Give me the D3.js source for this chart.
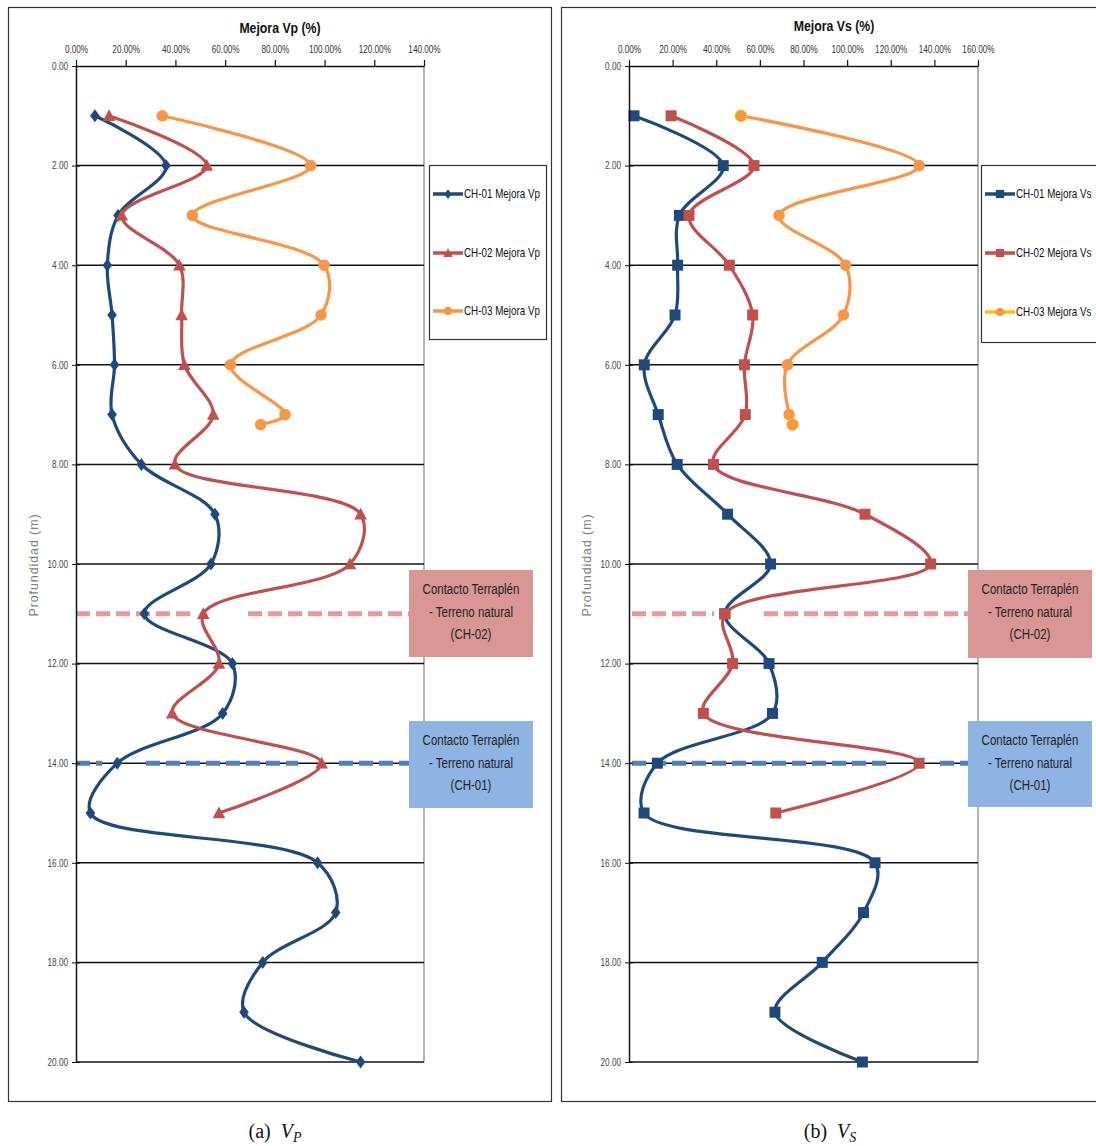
<!DOCTYPE html>
<html>
<head>
<meta charset="utf-8">
<script src="https://cdn.jsdelivr.net/npm/d3@7"></script>
<style>
  body { margin: 0; background: #fff; }
</style>
</head>
<body>
<div id="chart"></div>
<script>
// Depths (m) for each borehole
const depth01 = [1, 2, 3, 4, 5, 6, 7, 8, 9, 10, 11, 12, 13, 14, 15, 16, 17, 18, 19, 20];
const depth02 = [1, 2, 3, 4, 5, 6, 7, 8, 9, 10, 11, 12, 13, 14, 15];
const depth03 = [1, 2, 3, 4, 5, 6, 7, 7.2];

// Mejora Vp (%)
const vp01 = [7.6, 36.2, 16.9, 12.6, 14.5, 15.5, 14.5, 26.3, 55.9, 54.3, 27.5, 62.9, 59.0, 16.6, 5.8, 97.2, 104.5, 75.1, 67.6, 114.5];
const vp02 = [13.3, 52.6, 18.4, 41.6, 42.5, 43.6, 55.2, 39.8, 114.5, 110.2, 51.2, 57.5, 38.7, 98.8, 57.5];
const vp03 = [34.7, 94.4, 46.8, 99.8, 98.6, 62.2, 84.1, 74.3];

// Mejora Vs (%)
const vs01 = [2.3, 43.2, 23.1, 22.3, 21.1, 7.0, 13.4, 22.1, 45.2, 64.9, 43.9, 64.2, 65.8, 13.0, 6.9, 112.8, 107.5, 88.6, 66.9, 107.0];
const vs02 = [19.3, 57.3, 27.5, 46.0, 56.7, 52.9, 53.3, 38.7, 108.2, 138.3, 44.0, 47.5, 34.1, 133.0, 67.3];
const vs03 = [51.3, 133.0, 68.8, 99.3, 98.3, 72.6, 73.4, 75.0];

// Ticks
const xTicksVp = [0, 20, 40, 60, 80, 100, 120, 140];
const xTicksVs = [0, 20, 40, 60, 80, 100, 120, 140, 160];
const yTicks = [0, 2, 4, 6, 8, 10, 12, 14, 16, 18, 20];

// Contact depths (m)
const contactCH02 = 11;
const contactCH01 = 14;

const width = 1096, height = 1146;
const SANS = "'Liberation Sans', Arial, sans-serif";
const SQUEEZE = 0.82;   // fake a narrow font
const BLUE = "#1F497D", RED = "#C0504D", ORANGE = "#F79646", GOLD = "#FFC000";

const svg = d3.select("#chart")
    .append("svg")
    .attr("width", width)
    .attr("height", height);

// Shared depth scale
const y = d3.scaleLinear()
    .domain([0, 20])
    .range([66, 1062]);

// Narrow text helper
function narrow(g, x, yy, str, size, anchor, weight) {
    return g.append("text")
        .attr("transform", `translate(${x},${yy}) scale(${SQUEEZE},1)`)
        .attr("text-anchor", anchor || "start")
        .attr("font-family", SANS)
        .attr("font-size", size)
        .attr("font-weight", weight || 400)
        .attr("fill", "#111")
        .text(str);
}

// Marker shapes
function markerPath(shape) {
    if (shape === "diamond") return "M0,-6.5L4.8,0L0,6.5L-4.8,0Z";
    if (shape === "triangle") return "M0,-6.5L6.3,5.2L-6.3,5.2Z";
    if (shape === "square") return "M-5.5,-5.5h11v11h-11Z";
    return d3.symbol().type(d3.symbolCircle).size(105)();
}

function drawPanel(p) {
    const g = svg.append("g");

    // Panel frame
    g.append("rect")
        .attr("x", p.frame[0] + 0.5).attr("y", 7.5)
        .attr("width", p.frame[1] - p.frame[0]).attr("height", 1094)
        .attr("fill", "none").attr("stroke", "#333").attr("stroke-width", 1.2);

    const x = d3.scaleLinear()
        .domain([0, p.xMax])
        .range(p.xRange);

    // Right border of plot area
    g.append("line")
        .attr("x1", x(p.xMax)).attr("x2", x(p.xMax))
        .attr("y1", y(0)).attr("y2", y(20))
        .attr("stroke", "#999").attr("stroke-width", 1.5);

    // Gridlines
    g.append("g")
        .selectAll("line")
        .data(yTicks.filter(d => d > 0))
        .join("line")
        .attr("x1", x(0)).attr("x2", x(p.xMax))
        .attr("y1", d => y(d)).attr("y2", d => y(d))
        .attr("stroke", "#111").attr("stroke-width", 1.5);

    // Contact dashed lines
    for (let c of p.contacts) {
        for (let seg of c.segments) {
            g.append("line")
                .attr("x1", seg[0]).attr("x2", seg[1])
                .attr("y1", y(c.depth)).attr("y2", y(c.depth))
                .attr("stroke", c.color)
                .attr("stroke-width", 5)
                .attr("stroke-dasharray", "14,6");
        }
    }

    // Series lines
    const line = d3.line()
        .x(d => x(d.v))
        .y(d => y(d.depth))
        .curve(d3.curveCatmullRom.alpha(0.5));

    for (let s of p.series) {
        const pts = s.depths.map((d, i) => ({depth: d, v: s.values[i]}));
        g.append("path")
            .datum(pts)
            .attr("fill", "none")
            .attr("stroke", s.color)
            .attr("stroke-width", 3.2)
            .attr("stroke-linejoin", "round")
            .attr("d", line);

        g.append("g")
            .selectAll("path")
            .data(pts)
            .join("path")
            .attr("d", markerPath(s.shape))
            .attr("transform", d => `translate(${x(d.v)},${y(d.depth)})`)
            .attr("fill", s.color)
            .attr("stroke", (d, i) => s.edge && (i === 0 || i === pts.length - 1) ? s.edge : "none")
            .attr("stroke-width", 1);
    }

    // Top axis
    const top = g.append("g")
        .attr("transform", `translate(0,${y(0)})`)
        .call(d3.axisTop(x)
            .tickValues(p.xTicks)
            .tickSize(6)
            .tickSizeOuter(0)
            .tickFormat(d => d3.format(".2f")(d) + "%"));
    top.select(".domain").attr("stroke", "#111").attr("stroke-width", 1.5);
    top.selectAll(".tick line").attr("stroke", "#111").attr("stroke-width", 1.2);
    top.selectAll(".tick text")
        .attr("font-family", SANS).attr("font-size", 10).attr("fill", "#333")
        .attr("y", -13)
        .attr("transform", `scale(${SQUEEZE},1)`);

    // Left axis
    const left = g.append("g")
        .attr("transform", `translate(${x(0)},0)`)
        .call(d3.axisLeft(y)
            .tickValues(yTicks)
            .tickSize(4)
            .tickSizeOuter(0)
            .tickFormat(d3.format(".2f")));
    left.select(".domain").attr("stroke", "#111").attr("stroke-width", 1.5);
    left.selectAll(".tick line").attr("stroke", "#111").attr("x2", 4).attr("x1", -4);
    left.selectAll(".tick text")
        .attr("font-family", SANS).attr("font-size", 10).attr("fill", "#444")
        .attr("x", -8 / SQUEEZE)
        .attr("transform", `scale(${SQUEEZE},1)`);

    // Axis title
    narrow(g, p.titleX, p.titleY, p.title, 15, "middle", 700);

    // Depth label
    g.append("text")
        .attr("transform", `translate(${p.yTitleX},565) rotate(-90)`)
        .attr("text-anchor", "middle")
        .attr("font-family", SANS).attr("font-size", 12.5)
        .attr("letter-spacing", 0.9)
        .attr("fill", "#7f7f7f")
        .text("Profundidad  (m)");

    // Legend
    const lg = g.append("g");
    lg.append("rect")
        .attr("x", p.legend.x + 0.5).attr("y", 165.5)
        .attr("width", p.legend.w).attr("height", p.legend.h)
        .attr("fill", "#fff").attr("stroke", "#333").attr("stroke-width", 1.2);
    p.series.forEach((s, i) => {
        const ly = p.legend.rows[i];
        lg.append("line")
            .attr("x1", p.legend.x + 4).attr("x2", p.legend.x + 34)
            .attr("y1", ly).attr("y2", ly)
            .attr("stroke", s.legendColor || s.color).attr("stroke-width", 3.5);
        lg.append("path")
            .attr("d", markerPath(s.shape))
            .attr("transform", `translate(${p.legend.x + 19},${ly}) scale(0.75)`)
            .attr("fill", s.color);
        narrow(lg, p.legend.x + 35, ly + 4, s.name, 12);
    });

    // Contact boxes
    for (let b of p.boxes) {
        g.append("rect")
            .attr("x", b.x).attr("y", b.y)
            .attr("width", 124).attr("height", b.h)
            .attr("fill", b.fill);
        const lines = ["Contacto Terraplén", "- Terreno natural", b.label];
        lines.forEach((t, i) => {
            narrow(g, b.x + 62, b.y + 24 + i * 22.5, t, 14, "middle").attr("fill", "#222");
        });
    }
}

// Panel (a): Vp
drawPanel({
    frame: [8, 551],
    xRange: [76, 424],
    xMax: 140,
    xTicks: xTicksVp,
    title: "Mejora Vp (%)",
    titleX: 280, titleY: 33,
    yTitleX: 38,
    series: [
        {name: "CH-01 Mejora Vp", depths: depth01, values: vp01, color: BLUE, shape: "diamond"},
        {name: "CH-02 Mejora Vp", depths: depth02, values: vp02, color: RED, shape: "triangle"},
        {name: "CH-03 Mejora Vp", depths: depth03, values: vp03, color: ORANGE, shape: "circle"}
    ],
    legend: {x: 429, w: 117, h: 174, rows: [194, 253, 311]},
    contacts: [
        {depth: contactCH02, color: "#E09B9A", segments: [[76, 190], [248, 410]]},
        {depth: contactCH01, color: "#4F81BD", segments: [[76, 102], [146, 298], [339, 410]]}
    ],
    boxes: [
        {x: 409, y: 570, h: 87, fill: "#D99694", label: "(CH-02)"},
        {x: 409, y: 721, h: 87, fill: "#8EB4E3", label: "(CH-01)"}
    ]
});

// Panel (b): Vs
drawPanel({
    frame: [561, 1110],
    xRange: [629, 978],
    xMax: 160,
    xTicks: xTicksVs,
    title: "Mejora Vs (%)",
    titleX: 834, titleY: 31,
    yTitleX: 591,
    series: [
        {name: "CH-01 Mejora Vs", depths: depth01, values: vs01, color: BLUE, shape: "square"},
        {name: "CH-02 Mejora Vs", depths: depth02, values: vs02, color: RED, shape: "square"},
        {name: "CH-03 Mejora Vs", depths: depth03, values: vs03, color: ORANGE, shape: "circle", edge: GOLD, legendColor: GOLD}
    ],
    legend: {x: 981, w: 130, h: 177, rows: [194, 253, 312]},
    contacts: [
        {depth: contactCH02, color: "#E09B9A", segments: [[632, 714], [764, 968]]},
        {depth: contactCH01, color: "#4F81BD", segments: [[632, 886], [940, 968]]}
    ],
    boxes: [
        {x: 968, y: 570, h: 88, fill: "#D99694", label: "(CH-02)"},
        {x: 968, y: 721, h: 86, fill: "#8EB4E3", label: "(CH-01)"}
    ]
});

// Captions
const captions = [{x: 275, sub: "P", tag: "(a)"}, {x: 830, sub: "S", tag: "(b)"}];
for (let c of captions) {
    const t = svg.append("text")
        .attr("x", c.x).attr("y", 1138)
        .attr("text-anchor", "middle")
        .attr("font-family", "'Liberation Serif', 'DejaVu Serif', serif")
        .attr("font-size", 20)
        .attr("fill", "#111");
    t.append("tspan").text(c.tag + "\u2002");
    t.append("tspan").attr("font-style", "italic").text("V");
    t.append("tspan").attr("font-style", "italic").attr("font-size", 14).attr("dy", 4).text(c.sub);
}
</script>
</body>
</html>
